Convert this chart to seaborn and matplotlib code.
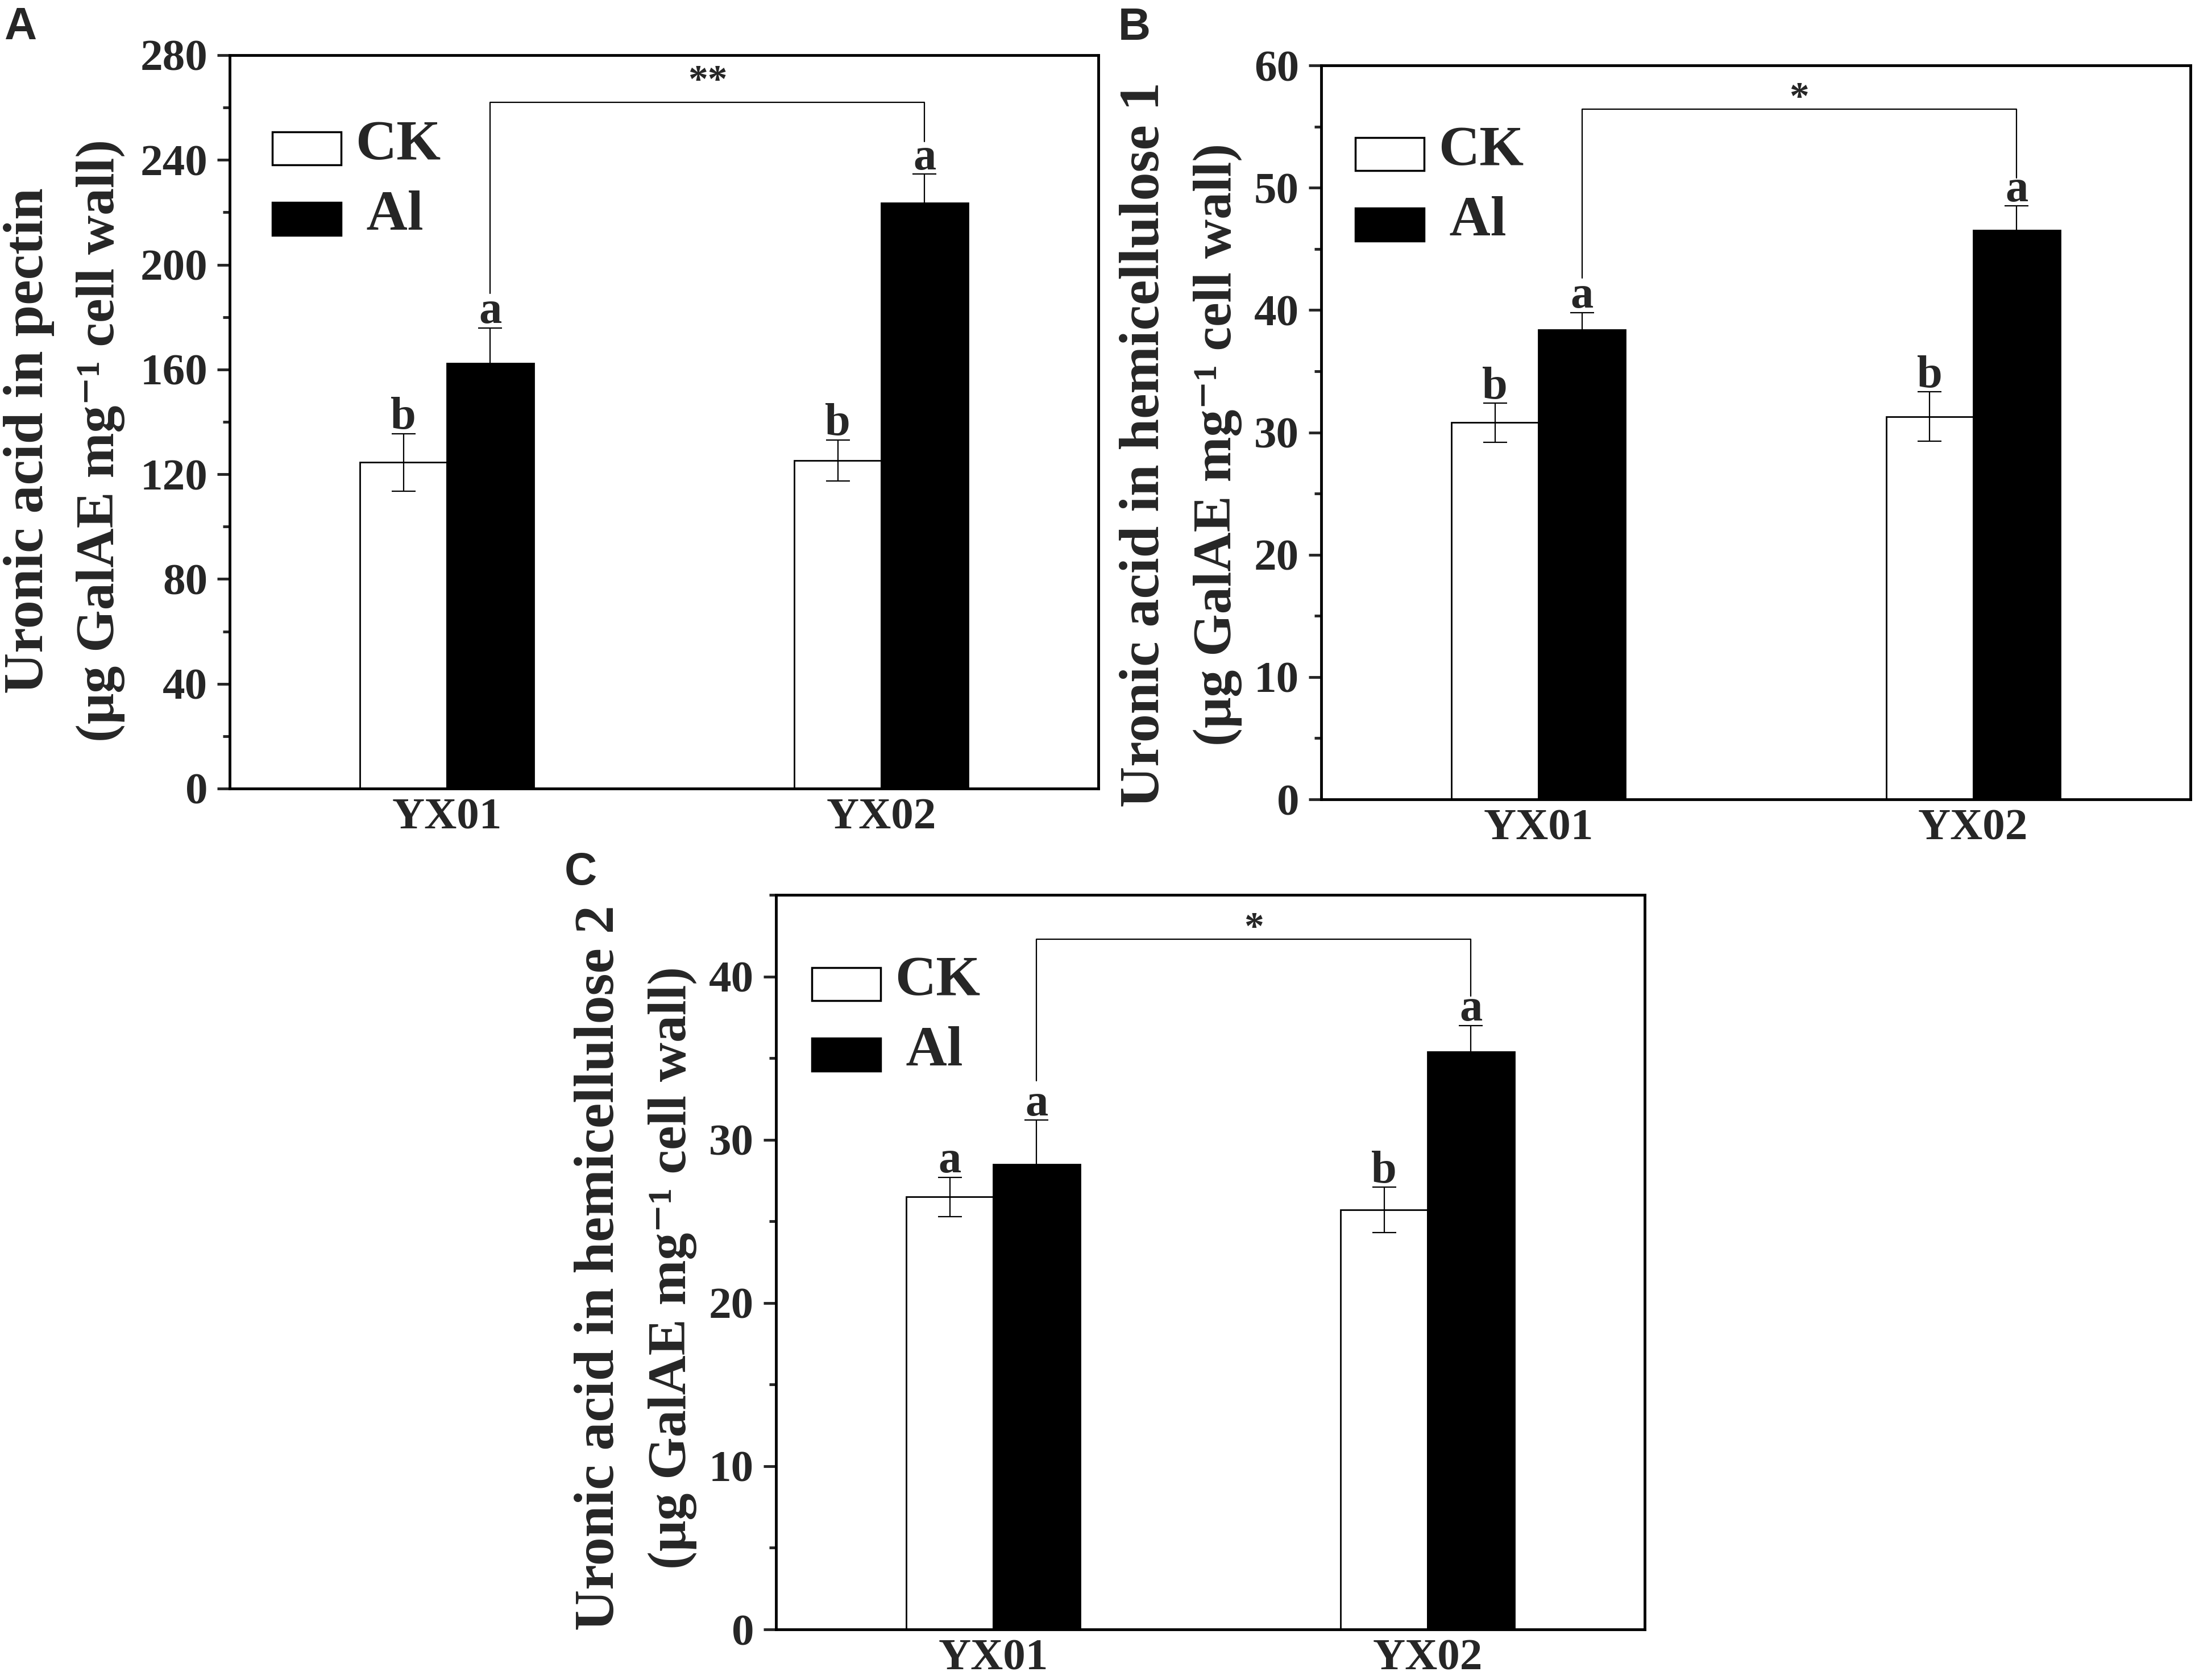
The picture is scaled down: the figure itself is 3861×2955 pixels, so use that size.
import pandas as pd
import matplotlib.pyplot as plt
import matplotlib.patches as mpatches
from matplotlib.legend_handler import HandlerPatch
from matplotlib.ticker import MultipleLocator
import seaborn as sns

# ----------------------------
# Data
# ----------------------------
genotypes = ["YX01", "YX02"]
treatments = ["CK", "Al"]

# A: uronic acid in pectin
pectin_ck = [124.5, 125.3]
pectin_al = [162.4, 223.6]
pectin_ck_err = [11.0, 7.8]
pectin_al_err = [13.5, 11.0]
pectin_ck_letters = ["b", "b"]
pectin_al_letters = ["a", "a"]

# B: uronic acid in hemicellulose 1
hemi1_ck = [30.8, 31.3]
hemi1_al = [38.4, 46.5]
hemi1_ck_err = [1.6, 2.0]
hemi1_al_err = [1.4, 2.0]
hemi1_ck_letters = ["b", "b"]
hemi1_al_letters = ["a", "a"]

# C: uronic acid in hemicellulose 2
hemi2_ck = [26.5, 25.7]
hemi2_al = [28.5, 35.4]
hemi2_ck_err = [1.2, 1.4]
hemi2_al_err = [2.7, 1.6]
hemi2_ck_letters = ["a", "b"]
hemi2_al_letters = ["a", "a"]

# significance brackets between the two Al bars: (line, left end, right end, star baseline)
pectin_sig = [262, 189, 247, 266]
hemi1_sig = [56.4, 42.6, 50.8, 56.4]
hemi2_sig = [42.3, 33.6, 38.8, 42.3]
pectin_stars = "**"
hemi1_stars = "*"
hemi2_stars = "*"

ylabels_top = ["Uronic acid in pectin",
               "Uronic acid in hemicellulose 1",
               "Uronic acid in hemicellulose 2"]
ylabel_unit = "(μg GalAE mg⁻¹ cell wall)"

# ----------------------------
# Style
# ----------------------------
sns.set_theme(style="ticks")
plt.rcParams["font.family"] = ["Liberation Serif", "DejaVu Serif"]
plt.rcParams["font.weight"] = "bold"
plt.rcParams["axes.linewidth"] = 3.5

W, H = 3862, 2955
fig = plt.figure(figsize=(W / 100, H / 100), dpi=100)


def px_axes(left, top, right, bottom):
    return fig.add_axes([left / W, 1 - bottom / H, (right - left) / W, (bottom - top) / H])


def box_patch(legend, orig_handle, xdescent, ydescent, width, height, fontsize):
    return mpatches.Rectangle((-xdescent, -0.1 * fontsize), width, 0.58 * fontsize)


def panel(ax, ck, al, ck_err, al_err, ck_let, al_let, sig, stars,
          ylim, major, minor, leg_anchor):
    df = pd.DataFrame({
        "genotype": genotypes * 2,
        "treatment": ["CK"] * 2 + ["Al"] * 2,
        "value": ck + al,
    })
    sns.barplot(data=df, x="genotype", y="value", hue="treatment",
                order=genotypes, hue_order=treatments,
                palette={"CK": "white", "Al": "black"}, saturation=1,
                edgecolor="black", linewidth=2, width=0.4, gap=0,
                errorbar=None, ax=ax)

    errs = [ck_err, al_err]
    lets = [ck_let, al_let]
    centers = []
    for cont, err, let in zip(ax.containers, errs, lets):
        xs = [b.get_x() + b.get_width() / 2 for b in cont]
        ys = [b.get_height() for b in cont]
        centers.append(xs)
        ax.errorbar(xs, ys, yerr=err, fmt="none", ecolor="black",
                    elinewidth=1.6, capsize=15, capthick=1.6, zorder=3)
        for x, y, e, t in zip(xs, ys, err, let):
            ax.annotate(t, xy=(x, y + e), xytext=(0, 6), textcoords="offset points",
                        ha="center", va="baseline", fontsize=58, fontweight="bold")

    # bracket between Al bars
    x1, x2 = centers[1]
    ax.plot([x1, x1, x2, x2], [sig[1], sig[0], sig[0], sig[2]],
            color="black", lw=1.6, zorder=3)
    ax.text((x1 + x2) / 2, sig[3], stars, ha="center", va="baseline",
            fontsize=50, fontweight="bold")

    # legend
    leg = ax.get_legend()
    handles = leg.legend_handles
    leg.remove()
    for h in handles:
        h.set_edgecolor("black")
        h.set_linewidth(2.5)
    ax.legend(handles, ["CK", " Al"], loc="upper left", bbox_to_anchor=leg_anchor,
              frameon=False, fontsize=72, handlelength=1.21, handleheight=0.58,
              handletextpad=0.25, labelspacing=0.34, borderpad=0, borderaxespad=0,
              handler_map={mpatches.Rectangle: HandlerPatch(patch_func=box_patch)})

    ax.set_xlim(-0.5, len(genotypes) - 0.5)
    ax.set_ylim(*ylim)
    ax.yaxis.set_major_locator(MultipleLocator(major))
    ax.yaxis.set_minor_locator(MultipleLocator(minor))
    ax.tick_params(axis="y", which="major", direction="out", length=16, width=3.5,
                   labelsize=57, pad=12)
    ax.tick_params(axis="y", which="minor", direction="out", length=8.5, width=3.5)
    ax.tick_params(axis="x", which="both", length=0, labelsize=57, pad=12)
    for lab in ax.get_xticklabels() + ax.get_yticklabels():
        lab.set_fontweight("bold")
    for sp in ax.spines.values():
        sp.set_visible(True)
        sp.set_linewidth(3.5)
        sp.set_color("black")
    ax.set_xlabel("")
    ax.set_ylabel("")


# axes boxes in pixel coordinates (left, top, right, bottom)
axA = px_axes(404, 97, 1932, 1387)
axB = px_axes(2324, 115, 3853, 1406)
axC = px_axes(1365, 1574, 2893, 2866)

panel(axA, pectin_ck, pectin_al, pectin_ck_err, pectin_al_err,
      pectin_ck_letters, pectin_al_letters, pectin_sig, pectin_stars,
      (0, 280), 40, 20, (0.049, 0.912))
panel(axB, hemi1_ck, hemi1_al, hemi1_ck_err, hemi1_al_err,
      hemi1_ck_letters, hemi1_al_letters, hemi1_sig, hemi1_stars,
      (0, 60), 10, 5, (0.039, 0.918))
panel(axC, hemi2_ck, hemi2_al, hemi2_ck_err, hemi2_al_err,
      hemi2_ck_letters, hemi2_al_letters, hemi2_sig, hemi2_stars,
      (0, 45), 10, 5, (0.041, 0.917))

# two-line y labels (baseline x positions and vertical centre, pixels)
label_pos = [(75, 200, 775), (2038, 2165, 782), (1079, 1206, 2230)]
for text, (xb1, xb2, yc) in zip(ylabels_top, label_pos):
    fig.text(xb1 / W, 1 - yc / H, text, rotation=90, rotation_mode="anchor",
             ha="center", va="baseline", fontsize=72, fontweight="bold")
    fig.text(xb2 / W, 1 - yc / H, ylabel_unit, rotation=90, rotation_mode="anchor",
             ha="center", va="baseline", fontsize=69, fontweight="bold")

# panel letters
for letter, (xl, yb) in zip(["A", "B", "C"], [(7, 69), (1967, 70), (993, 1556)]):
    fig.text(xl / W, 1 - yb / H, letter, ha="left", va="baseline",
             fontsize=57, fontweight="bold", family=["Liberation Sans", "DejaVu Sans"])

fig.savefig("out.png", dpi=100, facecolor="white")
